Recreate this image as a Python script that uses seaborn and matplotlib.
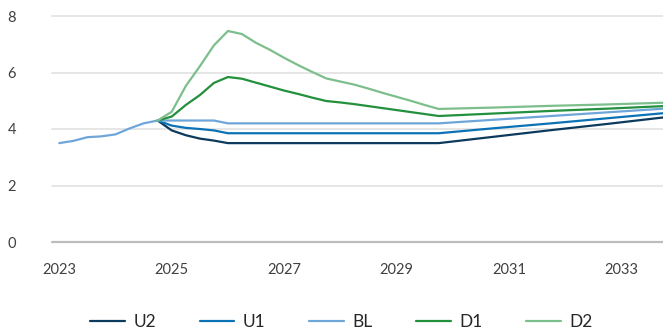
import numpy as np
import pandas as pd
import seaborn as sns
import matplotlib
matplotlib.use("Agg")
import matplotlib.pyplot as plt

# Quarterly history (decimal years) and the common starting point of the scenarios
hist_t = [2023.00, 2023.25, 2023.50, 2023.75, 2024.00, 2024.25, 2024.50, 2024.75]
hist_v = [3.50, 3.58, 3.71, 3.74, 3.81, 4.02, 4.20, 4.30]

# Scenario path: quarterly to 2029.75, then yearly to 2033.75
proj_t = [2024.75, 2025.00, 2025.25, 2025.50, 2025.75, 2026.00, 2026.25, 2026.50,
          2026.75, 2027.00, 2027.25, 2027.50, 2027.75, 2028.00, 2028.25, 2028.50,
          2028.75, 2029.00, 2029.25, 2029.50, 2029.75, 2030.75, 2031.75, 2032.75,
          2033.75]

u2 = [4.30, 3.95, 3.78, 3.66, 3.59, 3.50, 3.50, 3.50, 3.50, 3.50, 3.50, 3.50,
      3.50, 3.50, 3.50, 3.50, 3.50, 3.50, 3.50, 3.50, 3.50, 3.73, 3.96, 4.18, 4.41]
u1 = [4.30, 4.12, 4.04, 4.00, 3.95, 3.85, 3.85, 3.85, 3.85, 3.85, 3.85, 3.85,
      3.85, 3.85, 3.85, 3.85, 3.85, 3.85, 3.85, 3.85, 3.85, 4.03, 4.20, 4.38, 4.56]
bl = [4.30, 4.30, 4.30, 4.30, 4.30, 4.20, 4.20, 4.20, 4.20, 4.20, 4.20, 4.20,
      4.20, 4.20, 4.20, 4.20, 4.20, 4.20, 4.20, 4.20, 4.20, 4.33, 4.46, 4.59, 4.72]
d1 = [4.30, 4.44, 4.85, 5.20, 5.63, 5.84, 5.78, 5.64, 5.50, 5.36, 5.24, 5.11,
      4.99, 4.94, 4.88, 4.81, 4.74, 4.67, 4.60, 4.53, 4.46, 4.55, 4.64, 4.72, 4.81]
d2 = [4.30, 4.61, 5.52, 6.22, 6.96, 7.47, 7.36, 7.05, 6.80, 6.52, 6.26, 6.02,
      5.79, 5.68, 5.57, 5.43, 5.28, 5.14, 5.00, 4.85, 4.71, 4.76, 4.82, 4.87, 4.93]

scenarios = ["U2", "U1", "BL", "D1", "D2"]
colors = ["#0b3a5c", "#0b72b5", "#6fa6da", "#22903c", "#7dbf8c"]
year_ticks = [2023, 2025, 2027, 2029, 2031, 2033]
y_ticks = [0, 2, 4, 6, 8]

frames = [pd.DataFrame({"t": hist_t, "v": hist_v, "scenario": "BL"})]
for name, vals in zip(scenarios, [u2, u1, bl, d1, d2]):
    frames.append(pd.DataFrame({"t": proj_t, "v": vals, "scenario": name}))
df = pd.concat(frames, ignore_index=True)
df["seg"] = np.r_[np.zeros(len(hist_t)), np.ones(len(df) - len(hist_t))]
df["line"] = df["scenario"] + df["seg"].astype(int).astype(str)

sns.set_style("white")
plt.rcParams["font.family"] = ["Lato", "DejaVu Sans"]

fig = plt.figure(figsize=(6.63, 3.31), dpi=100)
ax = fig.add_axes([52 / 663, 1 - 242 / 331, 1 - 52 / 663, (242 - 16) / 331])

sns.lineplot(data=df, x="t", y="v", hue="scenario", units="line",
             estimator=None, hue_order=scenarios, palette=colors,
             linewidth=1.6, ax=ax, sort=False, clip_on=False)

ax.set_xlim(2022.87, 2033.74)
ax.set_ylim(0, 8)
ax.set_xticks(year_ticks)
ax.set_xticklabels([str(y) for y in year_ticks])
ax.set_yticks(y_ticks)
ax.set_xlabel("")
ax.set_ylabel("")
for s in ax.spines.values():
    s.set_visible(False)
ax.grid(False)
for y in y_ticks[1:]:
    ax.axhline(y, color="#e6e6e6", linewidth=1.4, zorder=0, clip_on=False)
ax.axhline(0, color="#bdbdbd", linewidth=1.6, zorder=0, clip_on=False)

ax.tick_params(axis="both", length=0, labelsize=10.5, labelcolor="#404040")
ax.tick_params(axis="y", pad=26)
ax.tick_params(axis="x", pad=15)

handles, labels = ax.get_legend_handles_labels()
ax.legend_.remove()
fig.legend(handles, labels, loc="center", bbox_to_anchor=(0.515, 0.026),
           ncol=5, frameon=False, fontsize=12.5, handlelength=2.0,
           handletextpad=0.5, columnspacing=2.5)

fig.savefig("out.png", dpi=100)
